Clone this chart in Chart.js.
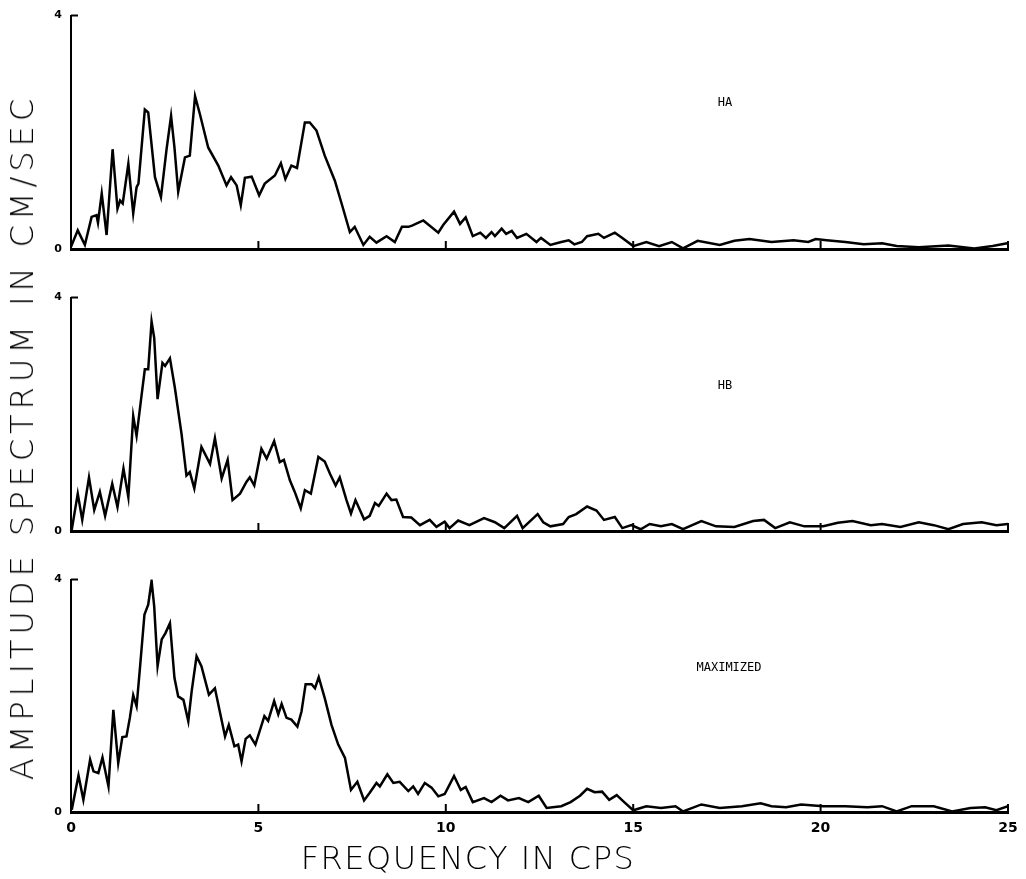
<!DOCTYPE html>
<html>
<head>
<meta charset="utf-8">
<script src="https://cdn.jsdelivr.net/npm/chart.js@4.4.0/dist/chart.umd.min.js"></script>
<style>
  body { margin: 0; background: #fff; }
  #wrap { position: relative; width: 1026px; height: 879px; overflow: hidden; }
  canvas { position: absolute; left: 0; }
  .tag { position: absolute; font-family: "DejaVu Sans Mono", monospace; font-size: 12px; color: #000; transform: translate(-50%, -50%); white-space: nowrap; }
  .title { position: absolute; font-family: "DejaVu Sans", sans-serif; font-weight: 200; font-size: 32px; color: #000; white-space: nowrap; transform: translate(-50%, -50%); }
</style>
</head>
<body>
<div id="wrap">
  <canvas id="c1" width="1026" height="269" style="top:0px"></canvas>
  <canvas id="c2" width="1026" height="269" style="top:282px"></canvas>
  <canvas id="c3" width="1026" height="293" style="top:564px"></canvas>
  <div class="tag" style="left:725px;top:102px">HA</div>
  <div class="tag" style="left:725px;top:385px">HB</div>
  <div class="tag" style="left:729px;top:667px">MAXIMIZED</div>
  <div class="title" style="left:22px;top:437px;letter-spacing:5px;transform:translate(-50%,-50%) rotate(-90deg)">AMPLITUDE SPECTRUM IN CM/SEC</div>
  <div class="title" style="left:468px;top:858px;letter-spacing:1.5px">FREQUENCY IN CPS</div>
</div>
<script>
// axis ticks
const xTicks = [0, 5, 10, 15, 20, 25];
const yTicks = [0, 4];

// HA record
const haFreq = [0, 0.18, 0.37, 0.55, 0.68, 0.72, 0.82, 0.95, 1.11, 1.24, 1.31, 1.38, 1.53, 1.66, 1.75, 1.8,
  1.97, 2.06, 2.24, 2.4, 2.55, 2.67, 2.76, 2.86, 3.04, 3.17, 3.31, 3.44, 3.66, 3.93, 4.15, 4.27, 4.42, 4.53,
  4.64, 4.82, 5.02, 5.17, 5.44, 5.6, 5.72, 5.88, 6.03, 6.24, 6.37, 6.55, 6.77, 7.04, 7.22, 7.44, 7.57, 7.8,
  7.97, 8.15, 8.42, 8.64, 8.83, 9.0, 9.1, 9.4, 9.8, 9.93, 10.22, 10.38, 10.53, 10.72, 10.92, 11.07, 11.22,
  11.31, 11.49, 11.61, 11.76, 11.9, 12.15, 12.42, 12.54, 12.79, 13.08, 13.28, 13.43, 13.63, 13.77, 14.07,
  14.22, 14.51, 14.71, 15.0, 15.35, 15.69, 16.03, 16.33, 16.72, 17.31, 17.7, 18.1, 18.69, 19.28, 19.67,
  19.87, 20.16, 20.66, 21.15, 21.64, 22.03, 22.62, 23.41, 24.1, 24.59, 24.98];
const haAmp = [0.04, 0.32, 0.07, 0.55, 0.58, 0.45, 0.95, 0.24, 1.71, 0.69, 0.83, 0.78, 1.46, 0.61, 1.06, 1.12,
  2.39, 2.34, 1.23, 0.89, 1.71, 2.28, 1.74, 0.98, 1.57, 1.6, 2.62, 2.31, 1.74, 1.43, 1.09, 1.23, 1.09, 0.75,
  1.22, 1.24, 0.92, 1.12, 1.26, 1.47, 1.2, 1.43, 1.39, 2.17, 2.17, 2.03, 1.6, 1.17, 0.78, 0.29, 0.38, 0.07,
  0.21, 0.11, 0.22, 0.12, 0.38, 0.38, 0.4, 0.49, 0.28, 0.41, 0.64, 0.43, 0.54, 0.22, 0.28, 0.19, 0.29,
  0.22, 0.35, 0.26, 0.31, 0.19, 0.26, 0.12, 0.19, 0.07, 0.12, 0.15, 0.08, 0.12, 0.22, 0.26,
  0.19, 0.28, 0.19, 0.05, 0.12, 0.05, 0.12, 0.01, 0.14, 0.07, 0.14, 0.17, 0.12, 0.15, 0.12,
  0.17, 0.15, 0.12, 0.08, 0.1, 0.05, 0.03, 0.06, 0.01, 0.05, 0.1];

// HB record
const hbFreq = [0.02, 0.18, 0.3, 0.48, 0.62, 0.77, 0.91, 1.1, 1.24, 1.4, 1.53, 1.66, 1.75, 1.88, 1.97, 2.06,
  2.15, 2.22, 2.31, 2.44, 2.51, 2.64, 2.77, 2.95, 3.08, 3.17, 3.29, 3.48, 3.71, 3.84, 4.02, 4.18, 4.31, 4.51,
  4.68, 4.77, 4.89, 5.08, 5.22, 5.42, 5.57, 5.68, 5.84, 5.97, 6.13, 6.24, 6.4, 6.6, 6.77, 6.91, 7.06, 7.17,
  7.35, 7.47, 7.59, 7.82, 7.97, 8.11, 8.21, 8.42, 8.55, 8.68, 8.86, 9.08, 9.31, 9.57, 9.75, 9.97, 10.1, 10.33,
  10.63, 11.02, 11.31, 11.56, 11.9, 12.05, 12.45, 12.6, 12.79, 13.13, 13.28, 13.48, 13.77, 14.02, 14.22,
  14.51, 14.71, 14.95, 15.2, 15.44, 15.74, 16.03, 16.33, 16.82, 17.21, 17.7, 18.2, 18.49, 18.79, 19.18,
  19.57, 20.07, 20.46, 20.85, 21.34, 21.64, 22.13, 22.62, 23.02, 23.41, 23.8, 24.3, 24.69, 25];
const hbAmp = [0.02, 0.64, 0.19, 0.92, 0.36, 0.67, 0.26, 0.81, 0.41, 1.07, 0.58, 1.97, 1.63, 2.31, 2.77, 2.77,
  3.59, 3.31, 2.26, 2.88, 2.83, 2.96, 2.46, 1.66, 0.95, 1.01, 0.73, 1.44, 1.15, 1.59, 0.9, 1.22, 0.53, 0.64,
  0.84, 0.92, 0.78, 1.41, 1.24, 1.54, 1.18, 1.22, 0.87, 0.67, 0.39, 0.7, 0.64, 1.27, 1.19, 0.98, 0.78, 0.92,
  0.53, 0.3, 0.53, 0.2, 0.26, 0.48, 0.43, 0.64, 0.53, 0.54, 0.24, 0.23, 0.1, 0.19, 0.07, 0.16, 0.05, 0.18,
  0.1, 0.22, 0.15, 0.05, 0.26, 0.05, 0.29, 0.15, 0.08, 0.12, 0.24, 0.29, 0.42, 0.35, 0.19,
  0.24, 0.05, 0.1, 0.03, 0.12, 0.08, 0.12, 0.03, 0.17, 0.08, 0.07, 0.17, 0.19, 0.05, 0.15,
  0.08, 0.08, 0.14, 0.17, 0.1, 0.12, 0.07, 0.15, 0.1, 0.03, 0.12, 0.15, 0.1, 0.12];

// maximized spectrum
const maxFreq = [0.02, 0.2, 0.33, 0.51, 0.6, 0.73, 0.84, 1.0, 1.13, 1.26, 1.37, 1.48, 1.57, 1.66, 1.75, 1.84,
  1.96, 2.06, 2.15, 2.22, 2.31, 2.42, 2.52, 2.64, 2.76, 2.86, 3.0, 3.13, 3.22, 3.35, 3.48, 3.68, 3.84, 3.97,
  4.11, 4.21, 4.36, 4.46, 4.55, 4.66, 4.77, 4.92, 5.16, 5.26, 5.42, 5.53, 5.62, 5.75, 5.88, 6.04, 6.15, 6.26,
  6.42, 6.51, 6.61, 6.77, 6.95, 7.13, 7.31, 7.47, 7.64, 7.82, 7.97, 8.15, 8.24, 8.44, 8.6, 8.77, 9.0, 9.13,
  9.26, 9.44, 9.62, 9.8, 9.97, 10.06, 10.22, 10.4, 10.53, 10.72, 11.02, 11.22, 11.46, 11.66, 11.95, 12.2,
  12.48, 12.69, 13.08, 13.33, 13.58, 13.77, 13.97, 14.17, 14.36, 14.56, 14.76, 15.0, 15.35, 15.74, 16.13,
  16.33, 16.82, 17.31, 17.9, 18.4, 18.69, 19.08, 19.48, 20.07, 20.66, 21.25, 21.64, 22.03, 22.43, 23.02,
  23.51, 24.0, 24.39, 24.69, 25];
const maxAmp = [0.04, 0.63, 0.21, 0.9, 0.7, 0.67, 0.94, 0.44, 1.76, 0.84, 1.29, 1.3, 1.62, 2.01, 1.82, 2.48,
  3.4, 3.57, 3.98, 3.54, 2.51, 2.97, 3.08, 3.25, 2.31, 1.99, 1.93, 1.56, 2.08, 2.68, 2.51, 2.02, 2.13, 1.73,
  1.3, 1.5, 1.13, 1.16, 0.87, 1.26, 1.32, 1.16, 1.65, 1.57, 1.91, 1.68, 1.86, 1.62, 1.59, 1.47, 1.73, 2.2,
  2.2, 2.13, 2.32, 1.96, 1.5, 1.16, 0.93, 0.38, 0.52, 0.2, 0.33, 0.5, 0.44, 0.65, 0.5, 0.52, 0.36, 0.44,
  0.31, 0.5, 0.42, 0.27, 0.31, 0.42, 0.62, 0.38, 0.43, 0.17, 0.24, 0.17, 0.28, 0.2, 0.24, 0.17,
  0.28, 0.07, 0.1, 0.17, 0.28, 0.4, 0.34, 0.35, 0.21, 0.29, 0.17, 0.03, 0.1, 0.07, 0.1,
  0.01, 0.13, 0.07, 0.1, 0.15, 0.1, 0.08, 0.13, 0.1, 0.1, 0.08, 0.1, 0.01, 0.1, 0.1,
  0.01, 0.07, 0.08, 0.03, 0.1];

// short inward tick marks, like the plotter drew them
const innerTicks = {
  id: 'innerTicks',
  afterDatasetsDraw(chart) {
    const { ctx, scales: { x, y } } = chart;
    ctx.save();
    ctx.strokeStyle = '#000';
    ctx.lineWidth = 2;
    ctx.beginPath();
    xTicks.slice(1).forEach(v => {
      const px = x.getPixelForValue(v);
      ctx.moveTo(px, y.bottom);
      ctx.lineTo(px, y.bottom - 8);
    });
    const ty = y.getPixelForValue(yTicks[1]);
    ctx.moveTo(x.left, ty);
    ctx.lineTo(x.left + 7, ty);
    ctx.stroke();
    ctx.restore();
  }
};

function makeChart(id, freqs, amps, showX, xHeight) {
  const pts = freqs.map((f, i) => ({ x: f, y: amps[i] }));
  return new Chart(document.getElementById(id), {
    type: 'line',
    data: {
      datasets: [{
        data: pts,
        borderColor: '#000',
        borderWidth: 2.5,
        pointRadius: 0,
        tension: 0,
        fill: false
      }]
    },
    options: {
      responsive: false,
      animation: false,
      devicePixelRatio: 1,
      layout: { padding: { left: 41, right: 18, top: 14, bottom: 0 } },
      plugins: { legend: { display: false }, tooltip: { enabled: false } },
      scales: {
        x: {
          type: 'linear',
          min: 0,
          max: 25,
          afterBuildTicks: s => { s.ticks = xTicks.map(v => ({ value: v })); },
          afterFit: s => { s.height = xHeight; },
          grid: { display: true, drawOnChartArea: false, drawTicks: false },
          border: { display: true, color: '#000', width: 3 },
          ticks: {
            display: showX,
            color: '#000',
            padding: 8,
            maxRotation: 0,
            font: { family: 'DejaVu Sans', size: 14, weight: 'bold' }
          }
        },
        y: {
          min: 0,
          max: 4,
          afterBuildTicks: s => { s.ticks = yTicks.map(v => ({ value: v })); },
          afterFit: s => { s.width = 30; },
          grid: { display: true, drawOnChartArea: false, drawTicks: false },
          border: { display: true, color: '#000', width: 2 },
          ticks: {
            color: '#000',
            padding: 9,
            font: { family: 'DejaVu Sans', size: 11, weight: 'bold' }
          }
        }
      }
    },
    plugins: [innerTicks]
  });
}

makeChart('c1', haFreq, haAmp, false, 20);
makeChart('c2', hbFreq, hbAmp, false, 20);
makeChart('c3', maxFreq, maxAmp, true, 45);
</script>
</body>
</html>
